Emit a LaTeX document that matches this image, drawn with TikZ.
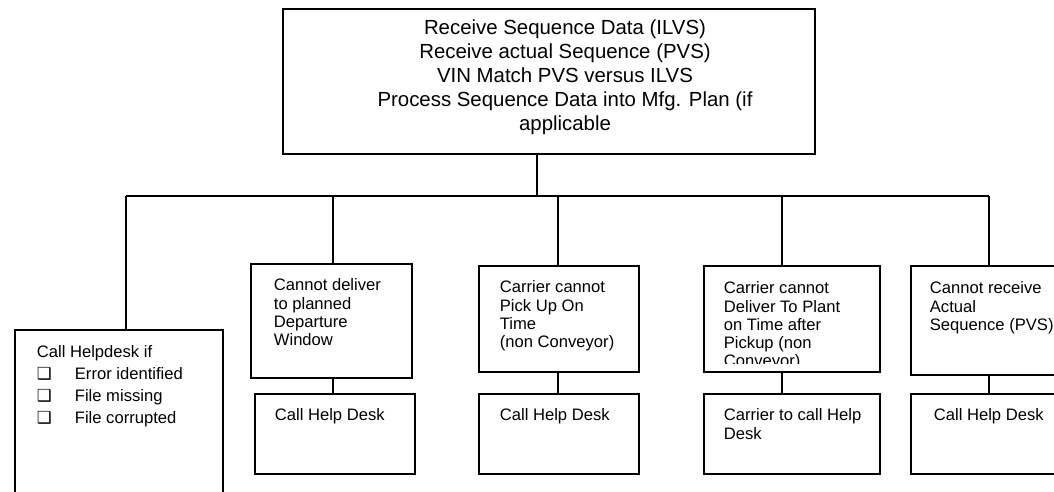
\documentclass[tikz,border=0pt]{standalone}
\usepackage{fontspec}
\setmainfont{Liberation Sans}
\newfontfamily\symfont{DejaVu Sans}

\begin{document}
\begin{tikzpicture}[
                x=1pt, y=-1pt, % coordinates read like the page, top down
                line width=1.8pt,
                box/.style={draw, inner sep=0pt, anchor=north west},
                txt/.style={anchor=north west, inner sep=0pt, align=left,
                    font=\fontsize{16.6}{18.2}\selectfont}
            ]

            \useasboundingbox (0,0) rectangle (1054,492);
            \clip (0,0) rectangle (1054,492);

            % top box
            \node[box, minimum width=532, minimum height=145] (seq) at (282,8) {};
            \node[anchor=north, inner sep=0pt, align=center,
                  font=\fontsize{20.4}{24}\selectfont] (seqtxt) at (565,19)
                {Receive Sequence Data (ILVS)\\Receive actual Sequence (PVS)\\
                 VIN Match PVS versus ILVS\\Process Sequence Data into Mfg. Plan (if\\applicable};

            % left box
            \node[box, minimum width=208, minimum height=200] (hd) at (14,329) {};
            \node[txt, font=\fontsize{16.6}{22}\selectfont] (hdtxt) at (36,345)
                {Call Helpdesk if\\
                 \makebox[38pt][l]{\symfont\bfseries ❑}Error identified\\
                 \makebox[38pt][l]{\symfont\bfseries ❑}File missing\\
                 \makebox[38pt][l]{\symfont\bfseries ❑}File corrupted};

            % cause boxes
            \node[box, minimum width=161, minimum height=114] (c1) at (250,263) {};
            \node[box, minimum width=160, minimum height=106] (c2) at (478,265) {};
            \node[box, minimum width=176, minimum height=106] (c3) at (703,265) {};
            \node[box, minimum width=158, minimum height=109] (c4) at (910,265) {};

            \node[txt] (c1txt) at (273,278) {Cannot deliver\\to planned\\Departure\\Window};
            \node[txt] (c2txt) at (499,280) {Carrier cannot\\Pick Up On\\Time\\(non Conveyor)};
            \begin{scope}
                \clip (c3.north west) rectangle ([yshift=9pt]c3.south east);
                \node[txt] (c3txt) at (723,281) {Carrier cannot\\Deliver To Plant\\on Time after\\Pickup (non\\Conveyor)};
            \end{scope}
            \node[txt] (c4txt) at (929,281) {Cannot receive\\Actual\\Sequence (PVS)};

            % action boxes
            \node[box, minimum width=160, minimum height=80] (a1) at (254,393) {};
            \node[box, minimum width=160, minimum height=80] (a2) at (478,393) {};
            \node[box, minimum width=176, minimum height=80] (a3) at (703,393) {};
            \node[box, minimum width=158, minimum height=80] (a4) at (910,393) {};

            \node[txt] (a1txt) at (274,408) {Call Help Desk};
            \node[txt] (a2txt) at (499,408) {Call Help Desk};
            \node[txt] (a3txt) at (723,408) {Carrier to call Help\\Desk};
            \node[txt] (a4txt) at (933,408) {Call Help Desk};

            % connectors
            \coordinate (trunk) at (537,196);
            \coordinate (d0) at (126,196);
            \coordinate (d1) at (333,196);
            \coordinate (d2) at (558,196);
            \coordinate (d3) at (782,196);
            \coordinate (d4) at (989,196);

            \draw (trunk |- seq.south) -- (trunk);
            \draw (d0) -- (d4);
            \draw (d0) -- (d0 |- hd.north);
            \foreach \d/\c/\a in {d1/c1/a1, d2/c2/a2, d3/c3/a3, d4/c4/a4} {
                \draw (\d) -- (\d |- \c.north);
                \draw (\d |- \c.south) -- (\d |- \a.north);
            }

        \end{tikzpicture}
\end{document}
